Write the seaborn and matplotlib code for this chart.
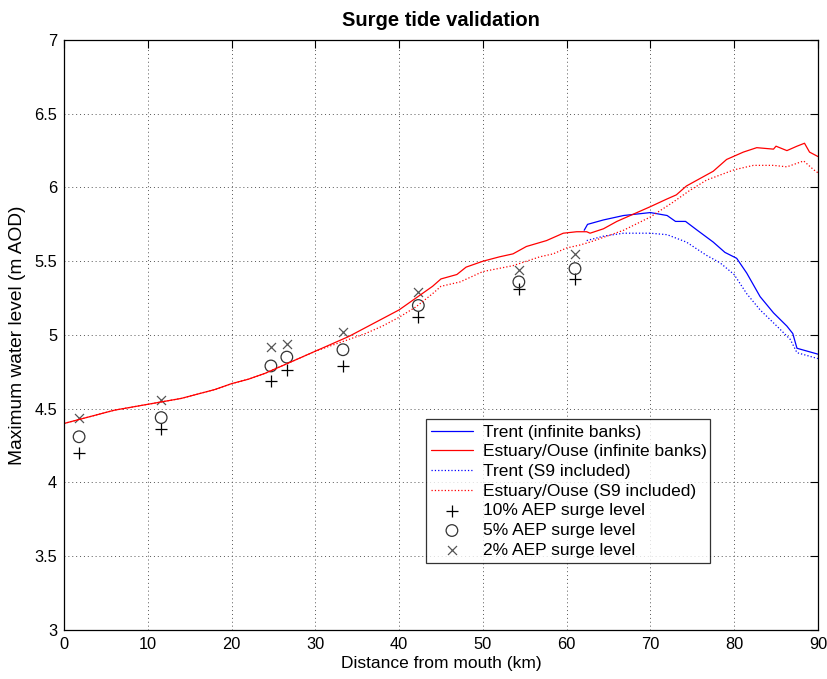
import numpy as np
import pandas as pd
import seaborn as sns
import matplotlib.pyplot as plt

# ---- data ----
est_km = [0, 2, 4, 6, 8, 10, 12, 14, 16, 18, 20, 22, 24, 26, 28, 30, 32, 34, 36, 38,
          40, 42, 44, 45, 46.9, 48, 50, 52, 53.6, 55.2, 57.6, 59.6, 61.2, 62.4, 62.8,
          64.4, 66, 67.6, 70, 71.9, 73.1, 74.3, 75.9, 77.5, 79.1, 81.1, 82.7, 84.7,
          85, 86.3, 87.5, 88.4, 89, 90]
est_inf = [4.40, 4.43, 4.46, 4.49, 4.51, 4.53, 4.55, 4.57, 4.60, 4.63, 4.67, 4.70,
           4.74, 4.79, 4.84, 4.89, 4.94, 4.99, 5.05, 5.11, 5.17, 5.25, 5.33, 5.38,
           5.41, 5.46, 5.50, 5.53, 5.55, 5.60, 5.64, 5.69, 5.70, 5.70, 5.69, 5.72,
           5.77, 5.81, 5.87, 5.92, 5.95, 6.01, 6.06, 6.11, 6.19, 6.24, 6.27, 6.26,
           6.28, 6.25, 6.28, 6.30, 6.24, 6.21]

est_s9_km = [0, 2, 4, 6, 8, 10, 12, 14, 16, 18, 20, 22, 24, 26, 28, 30, 32, 34, 36,
             38, 40, 42, 44, 45, 47.3, 50, 53.6, 56.8, 58.4, 60, 61.6, 62.8, 64.8,
             66.8, 70, 72.7, 74.7, 76.7, 80, 82.3, 84.7, 86.3, 88.3, 89.5, 90]
est_s9 = [4.40, 4.43, 4.46, 4.49, 4.51, 4.53, 4.55, 4.57, 4.60, 4.63, 4.67, 4.70,
          4.74, 4.79, 4.84, 4.89, 4.93, 4.97, 5.01, 5.06, 5.12, 5.19, 5.28, 5.33,
          5.36, 5.43, 5.47, 5.53, 5.55, 5.59, 5.61, 5.63, 5.67, 5.71, 5.80, 5.90,
          5.98, 6.05, 6.12, 6.15, 6.15, 6.14, 6.18, 6.12, 6.10]

trent_km = [62.1, 62.5, 64.4, 66.8, 68.4, 70, 72, 73, 74.2, 75.6, 77.5, 78.9, 80.3,
            81.5, 83.1, 84.7, 86.3, 87, 87.5, 90]
trent_inf = [5.71, 5.75, 5.78, 5.81, 5.82, 5.83, 5.81, 5.77, 5.77, 5.71, 5.63, 5.56,
             5.52, 5.42, 5.26, 5.15, 5.06, 5.01, 4.91, 4.87]

trent_s9_km = [62.4, 64.4, 66.8, 70, 72, 74.3, 76.7, 78.3, 80, 81.5, 83.1, 85.1,
               86.7, 87.5, 90]
trent_s9 = [5.64, 5.67, 5.69, 5.69, 5.68, 5.63, 5.54, 5.49, 5.41, 5.28, 5.17, 5.06,
            4.97, 4.88, 4.84]

obs_km = [1.8, 11.6, 24.7, 26.6, 33.3, 42.3, 54.3, 61.0]
aep10 = [4.20, 4.36, 4.69, 4.76, 4.79, 5.12, 5.31, 5.38]
aep5 = [4.31, 4.44, 4.79, 4.85, 4.90, 5.20, 5.36, 5.45]
aep2 = [4.44, 4.56, 4.92, 4.94, 5.02, 5.29, 5.44, 5.55]

sns.set_style('white')
plt.rcParams['font.family'] = ['Liberation Sans', 'DejaVu Sans']
plt.rcParams['text.color'] = 'black'
plt.rcParams['axes.labelcolor'] = 'black'
plt.rcParams['xtick.color'] = 'black'
plt.rcParams['ytick.color'] = 'black'

fig = plt.figure(figsize=(8.27, 6.79), dpi=100)
ax = fig.add_axes([0.0774, 0.0722, 0.9116, 0.8689])

sns.lineplot(x=trent_km, y=trent_inf, color='#0000ff', lw=0.9, ax=ax,
             label='Trent (infinite banks)')
sns.lineplot(x=est_km, y=est_inf, color='#ff0000', lw=0.9, ax=ax,
             label='Estuary/Ouse (infinite banks)')
sns.lineplot(x=trent_s9_km, y=trent_s9, color='#0000ff', lw=0.9, ax=ax,
             linestyle=':', label='Trent (S9 included)')
sns.lineplot(x=est_s9_km, y=est_s9, color='#ff0000', lw=0.9, ax=ax,
             linestyle=':', label='Estuary/Ouse (S9 included)')

sns.scatterplot(x=obs_km, y=aep10, marker='+', s=85, color='black',
                linewidth=0.9, ax=ax, label='10% AEP surge level')
sns.scatterplot(x=obs_km, y=aep5, marker='o', s=70, facecolor='none',
                edgecolor='#333333', linewidth=0.9, ax=ax, label='5% AEP surge level')
sns.scatterplot(x=obs_km, y=aep2, marker='x', s=42, color='#555555',
                linewidth=0.9, ax=ax, label='2% AEP surge level')

ax.set_xlim(0, 90)
ax.set_ylim(3, 7)
ax.set_xticks(np.arange(0, 91, 10))
ax.set_yticks(np.arange(3, 7.01, 0.5))
ax.set_yticklabels(['3', '3.5', '4', '4.5', '5', '5.5', '6', '6.5', '7'])
ax.grid(True, linestyle=(0, (1, 3)), color='#555555', linewidth=0.7)
ax.tick_params(direction='in', length=6, top=True, right=True, labelsize=11.8,
               color='black', labelcolor='black', pad=5)
for sp in ax.spines.values():
    sp.set_color('black')
    sp.set_linewidth(0.9)

ax.set_xlabel('Distance from mouth (km)', fontsize=12.5, labelpad=3, color='black')
ax.set_ylabel('Maximum water level (m AOD)', fontsize=13.8, labelpad=6, color='black')
ax.set_title('Surge tide validation', fontsize=14.5, fontweight='bold', pad=10,
             color='black')

leg = ax.legend(loc='lower left', bbox_to_anchor=(0.480, 0.1136, 0.377, 0.247),
                mode='expand', fontsize=12.5, frameon=True, fancybox=False,
                borderpad=0.3, labelspacing=0.26, handlelength=2.4,
                handletextpad=0.6, borderaxespad=0, labelcolor='black')
leg.get_frame().set_edgecolor('black')
leg.get_frame().set_linewidth(0.9)

fig.savefig('out.png', dpi=100)
